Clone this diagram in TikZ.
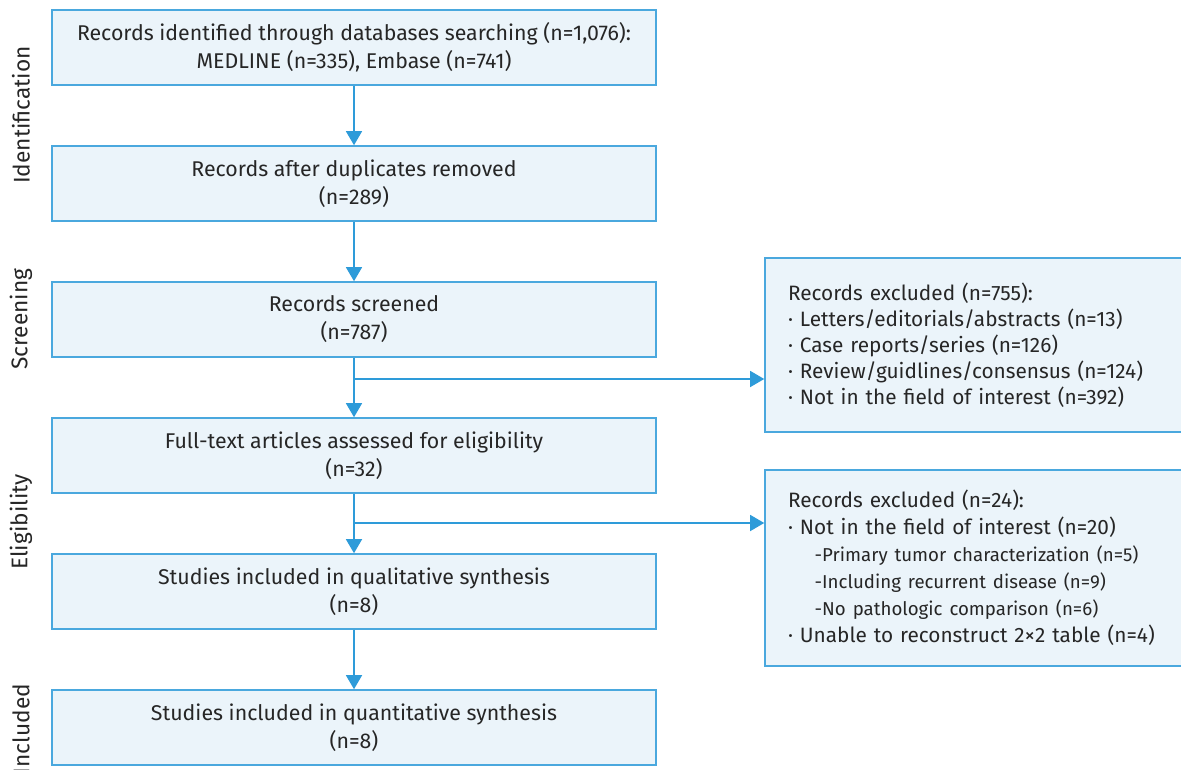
\documentclass[tikz,border=0pt]{standalone}
\usepackage{fontspec}
\setmainfont{Fira Sans}
\usetikzlibrary{arrows.meta}
\definecolor{boxfill}{HTML}{EBF4FA}
\definecolor{boxline}{HTML}{4AA8DE}
\definecolor{arrowc}{HTML}{2E9BD9}
\definecolor{txt}{HTML}{262626}
\tikzset{
  mainbox/.style={draw=boxline, line width=1.2pt, fill=boxfill, minimum width=453pt, minimum height=56.25pt, align=center, text=txt, font=\fontsize{16}{21}\selectfont, inner sep=0pt},
  exbox/.style={draw=boxline, line width=1.2pt, fill=boxfill, minimum width=315pt, text width=280.5pt, inner xsep=17.25pt, inner ysep=0pt, align=left, text=txt, font=\fontsize{15.6}{19.5}\selectfont},
  arr/.style={draw=arrowc, line width=1pt, -{Triangle[width=12pt,length=10.5pt]}},
  sidelabel/.style={rotate=90, text=txt, font=\fontsize{17}{18}\selectfont, inner sep=0pt}
}
\newcommand{\exsubline}[1]{{\fontsize{14}{20.25}\selectfont\hspace*{20pt}#1}}
\begin{document}
\begin{tikzpicture}[x=0.75pt,y=-0.75pt]
\useasboundingbox (0,0) rectangle (1181,770);
\clip (0,0) rectangle (1181,770);
\fill[white] (0,0) rectangle (1181,770);
% side labels
\node[sidelabel] (lid) at (21,115) {Identification};
\node[sidelabel] (lsc) at (21,319) {Screening};
\node[sidelabel] (lel) at (21,522) {Eligibility};
\node[sidelabel] (lin) at (21,729) {Included};
% main boxes
\node[mainbox] (b1) at (354,47.5) {Records identified through databases searching (n=1,076):\\MEDLINE (n=335), Embase (n=741)};
\node[mainbox] (b2) at (354,183.5) {Records after duplicates removed\\(n=289)};
\node[mainbox] (b3) at (354,319.5) {Records screened\\(n=787)};
\node[mainbox] (b4) at (354,455.5) {Full-text articles assessed for eligibility\\(n=32)};
\node[mainbox] (b5) at (354,591.5) {Studies included in qualitative synthesis\\(n=8)};
\node[mainbox] (b6) at (354,727.5) {Studies included in quantitative synthesis\\(n=8)};
% exclusion boxes
\node[exbox, minimum height=130.5pt] (e1) at (975,345) {Records excluded (n=755):\\
· Letters/editorials/abstracts (n=13)\\
· Case reports/series (n=126)\\
· Review/guidlines/consensus (n=124)\\
· Not in the field of interest (n=392)};
\node[exbox, minimum height=147pt, font=\fontsize{15.6}{20.25}\selectfont] (e2) at (975,568) {Records excluded (n=24):\\
· Not in the field of interest (n=20)\\
\exsubline{-Primary tumor characterization (n=5)}\\
\exsubline{-Including recurrent disease (n=9)}\\
\exsubline{-No pathologic comparison (n=6)}\\
· Unable to reconstruct 2×2 table (n=4)};
% connectors
\coordinate (br1) at (354,379);
\coordinate (br2) at (354,523);
\draw[arr] (b1) -- (b2);
\draw[arr] (b2) -- (b3);
\draw[arr] (b3) -- (b4);
\draw[arr] (b4) -- (b5);
\draw[arr] (b5) -- (b6);
\draw[arr] (br1) -- (e1.west |- br1);
\draw[arr] (br2) -- (e2.west |- br2);
\end{tikzpicture}
\end{document}
